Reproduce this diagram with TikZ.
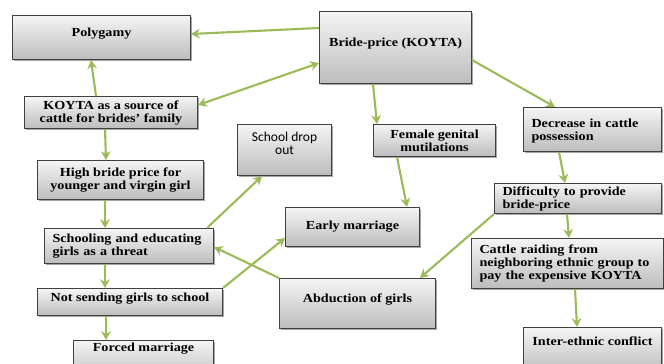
\documentclass[tikz,border=0pt]{standalone}
\usepackage{fontspec}
\setmainfont{Liberation Serif}[FakeStretch=1.15]
\newfontfamily\calibri{Carlito}
\usetikzlibrary{arrows.meta,shadows}

\definecolor{arrowgreen}{HTML}{9BBB59}
\definecolor{boxline}{HTML}{404040}

\begin{document}
\begin{tikzpicture}[x=0.02cm, y=-0.02cm]
				\tikzstyle{every node}=[inner xsep=4.5pt, inner ysep=1pt, font=\fontsize{7}{7.4}\selectfont\bfseries]
				\tikzstyle{box}=[draw=boxline, line width=0.6pt, top color=gray!8, bottom color=gray!52, anchor=north west, drop shadow={shadow xshift=1pt, shadow yshift=-1pt, opacity=0.7}]
				\tikzstyle{link}=[arrowgreen, line width=1.2pt, >={Stealth[length=5pt, width=5.5pt]}]
				\useasboundingbox (0,0) rectangle (664,364);
				\clip (0,0) rectangle (664,364);

				% boxes
				\node[box, align=center, minimum width=3.56cm, minimum height=0.88cm, text depth=6pt] (Poly) at (12,15) {Polygamy};
				\node[box, align=center, minimum width=3.04cm, minimum height=1.44cm, text depth=6pt] (Price) at (319,11) {Bride-price (KOYTA)};
				\node[box, align=center, minimum width=3.46cm, minimum height=0.64cm] (Source) at (24,96) {KOYTA as a source of\\cattle for brides' family};
				\node[box, align=center, minimum width=1.88cm, minimum height=1.02cm, text depth=7.2pt, font=\calibri\fontsize{7.7}{7.4}\selectfont] (Dropout) at (237,124) {School drop\\out};
				\node[box, align=center, minimum width=2.44cm, minimum height=0.64cm] (FGM) at (373,124) {Female genital\\mutilations};
				\node[box, align=left, text width=2.44cm, minimum width=2.76cm, minimum height=0.88cm, text depth=7.2pt] (Decrease) at (523,107) {Decrease in cattle\\possession};
				\node[box, align=center, minimum width=3.32cm, minimum height=0.78cm] (High) at (37,160) {High bride price for\\younger and virgin girl};
				\node[box, align=left, text width=3.02cm, minimum width=3.34cm, minimum height=0.6cm] (Difficulty) at (494,183) {Difficulty to provide\\bride-price};
				\node[box, align=center, minimum width=2.68cm, minimum height=0.78cm, text depth=2.6pt] (Early) at (285,207) {Early marriage};
				\node[box, align=left, text width=3.06cm, minimum width=3.38cm, minimum height=0.7cm] (School) at (44,228) {Schooling and educating\\girls as a threat};
				\node[box, align=center, minimum width=3.7cm, minimum height=0.54cm, text depth=6pt] (NotSend) at (37,288) {Not sending girls to school};
				\node[box, align=center, minimum width=3.12cm, minimum height=1.0cm, text depth=6pt] (Abduct) at (279,278) {Abduction of girls};
				\node[box, align=left, text width=3.52cm, minimum width=3.84cm, minimum height=1.0cm] (Raiding) at (471,238) {Cattle raiding from\\neighboring ethnic group to\\pay the expensive KOYTA};
				\node[box, align=center, minimum width=2.8cm, minimum height=0.8cm, text depth=15.2pt] (Forced) at (73,340) {Forced marriage};
				\node[box, align=center, minimum width=2.76cm, minimum height=0.9cm, text depth=10pt] (Conflict) at (523,327) {Inter-ethnic conflict};

				% arrows
				\draw[link, ->]  (Price.west |- 0,28) to (Poly.east |- 0,34);
				\draw[link, <->] (Price.west |- 0,63) to (Source.east |- 0,105);
				\draw[link, ->]  (Source.north -| 96,0) to (Poly.south -| 91,0);
				\draw[link, ->]  (Source.south -| 105,0) to (High.north -| 106,0);
				\draw[link, ->]  (High.south -| 105,0) to (School.north -| 105,0);
				\draw[link, ->]  (School.north -| 207,0) to (Dropout.south -| 262,0);
				\draw[link, ->]  (School.south -| 105,0) to (NotSend.north -| 105,0);
				\draw[link, ->]  (NotSend.north east) to (Early.west |- 0,238);
				\draw[link, ->]  (Abduct.north west) to (School.east |- 0,247);
				\draw[link, ->]  (NotSend.south -| 106,0) to (Forced.north -| 106,0);
				\draw[link, ->]  (Price.south -| 373,0) to (FGM.north -| 377,0);
				\draw[link, ->]  (FGM.south -| 397,0) to (Early.north -| 407,0);
				\draw[link, ->]  (Price.east |- 0,60) to (Decrease.north -| 555,0);
				\draw[link, ->]  (Decrease.south -| 559,0) to (Difficulty.north -| 565,0);
				\draw[link, ->]  (Difficulty.south west) to (Abduct.north -| 420,0);
				\draw[link, ->]  (Difficulty.south -| 567,0) to (Raiding.north -| 569,0);
				\draw[link, ->]  (Raiding.south -| 575,0) to (Conflict.north -| 577,0);

			\end{tikzpicture}
\end{document}
